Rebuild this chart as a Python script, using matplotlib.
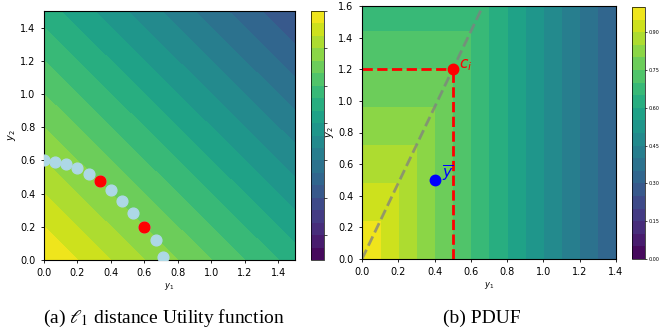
import numpy as np
import matplotlib.pyplot as plt

plt.rcParams['mathtext.fontset'] = 'dejavusans'

# (a) front points for the l1 distance plot
front_x = [0.0, 0.067, 0.133, 0.2, 0.267, 0.333, 0.4, 0.467, 0.533, 0.6, 0.667, 0.712]
front_y = [0.60, 0.592, 0.58, 0.556, 0.521, 0.477, 0.42, 0.358, 0.283, 0.198, 0.119, 0.018]
red_x = [0.333, 0.6]
red_y = [0.477, 0.198]

# (b) PDUF reference point and solution
c_i = (0.5, 1.2)
y_bar = (0.4, 0.5)
slope = c_i[1] / c_i[0]

W, H = 661, 331
fig = plt.figure(figsize=(W / 100, H / 100), dpi=100)

def box(x0, y_top, w, h):
    return [x0 / W, (H - y_top - h) / H, w / W, h / H]

# ---- (a) l1 distance utility
ax1 = fig.add_axes(box(44, 11, 251, 249))
g = np.linspace(0, 1.5, 400)
Y1, Y2 = np.meshgrid(g, g)
Z1 = -(Y1 + Y2)
lev1 = np.linspace(-4, 0, 21)
cs1 = ax1.contourf(Y1, Y2, Z1, levels=lev1, cmap='viridis')
ax1.scatter(front_x, front_y, s=60, color='lightblue', zorder=3)
ax1.scatter(red_x, red_y, s=60, color='red', zorder=4)
ax1.set_xlim(0, 1.5)
ax1.set_ylim(0, 1.5)
ax1.set_xticks(np.arange(0, 1.51, 0.2))
ax1.set_yticks(np.arange(0, 1.51, 0.2))
ax1.tick_params(labelsize=7, length=2.5, width=0.6)
ax1.set_xlabel('$y_1$', fontsize=6, labelpad=2)
ax1.set_ylabel('$y_2$', fontsize=7, labelpad=2)

cax1 = fig.add_axes(box(311, 11, 13, 249))
cb1 = fig.colorbar(cs1, cax=cax1)
cb1.set_ticks(lev1[2::3])
cb1.set_ticklabels([])
cb1.ax.tick_params(length=2, width=0.5)
cb1.outline.set_linewidth(0.5)

# ---- (b) PDUF
ax2 = fig.add_axes(box(362, 6, 254, 253))
gx = np.linspace(0, 1.4, 500)
gy = np.linspace(0, 1.6, 500)
X, Y = np.meshgrid(gx, gy)
Z2 = 1 - 0.5 * np.maximum(X, Y / slope)
lev2 = np.linspace(0, 1, 21)
cs2 = ax2.contourf(X, Y, Z2, levels=lev2, cmap='viridis')
lx = np.array([0, 1.6 / slope])
ax2.plot(lx, slope * lx, '--', color='gray', lw=2, alpha=0.75)
ax2.plot([0, c_i[0]], [c_i[1], c_i[1]], '--', color='red', lw=2)
ax2.plot([c_i[0], c_i[0]], [0, c_i[1]], '--', color='red', lw=2)
ax2.plot(*c_i, 'o', color='red', ms=7.5)
ax2.plot(*y_bar, 'o', color='blue', ms=7.5)
ax2.text(c_i[0] + 0.035, c_i[1] + 0.005, '$c_i$', color='red', fontsize=11)
ax2.text(y_bar[0] + 0.04, y_bar[1] + 0.005, r'$\overline{y}$', color='blue', fontsize=11)
ax2.set_xlim(0, 1.4)
ax2.set_ylim(0, 1.6)
ax2.set_xticks(np.arange(0, 1.41, 0.2))
ax2.set_yticks(np.arange(0, 1.61, 0.2))
ax2.tick_params(labelsize=7, length=2.5, width=0.6)
ax2.set_xlabel('$y_1$', fontsize=6, labelpad=2)
ax2.set_ylabel('$y_2$', fontsize=7, labelpad=2)

cax2 = fig.add_axes(box(632, 7, 13, 252))
cb2 = fig.colorbar(cs2, cax=cax2)
cb2.set_ticks(np.arange(0, 0.91, 0.15))
cb2.ax.tick_params(labelsize=3.5, length=1.5, width=0.5, pad=1)
cb2.outline.set_linewidth(0.5)

# captions
fig.text(164 / W, 1 - 318 / H, r'(a) $\ell_1$ distance Utility function',
         ha='center', va='center', fontsize=14, family='Liberation Serif',
         math_fontfamily='stix')
fig.text(482 / W, 1 - 318 / H, '(b) PDUF', ha='center', va='center',
         fontsize=14, family='Liberation Serif')

fig.savefig('out.png', dpi=100)
